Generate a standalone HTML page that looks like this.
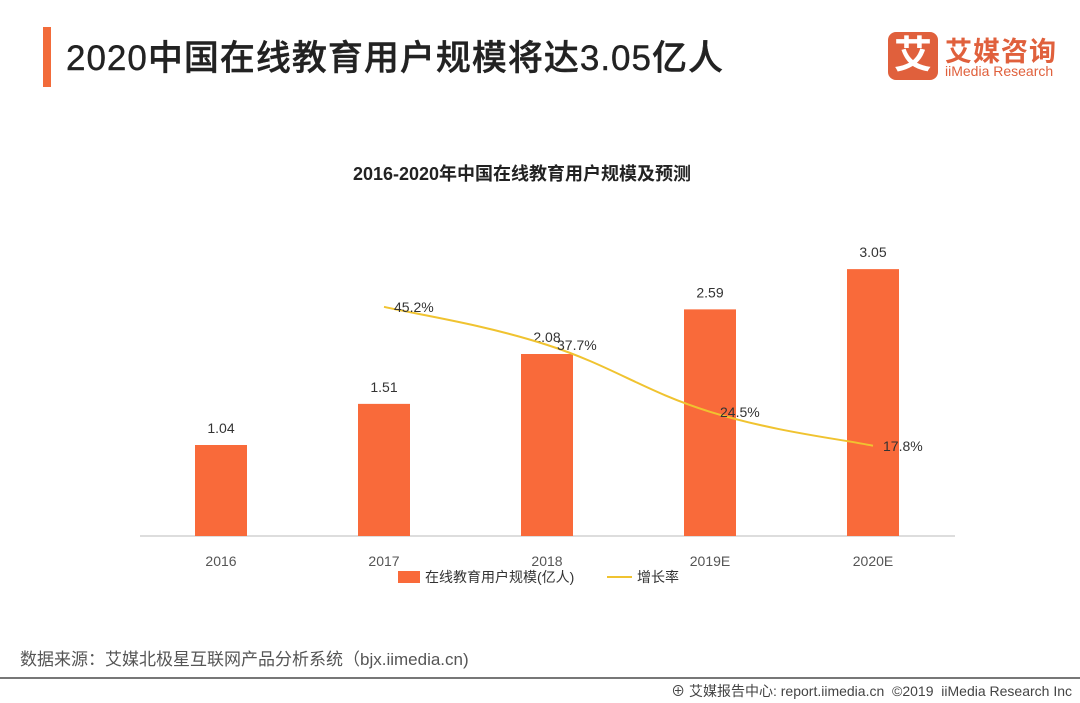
<!DOCTYPE html>
<html><head><meta charset="utf-8"><style>
body{margin:0;width:1080px;height:703px;background:#fff;overflow:hidden;font-family:"Liberation Sans","Noto Sans CJK SC",sans-serif;position:relative}
.abs{position:absolute}
</style></head><body>
<div class="abs" style="left:43px;top:27px;width:8px;height:60px;background:#f26b3a"></div>
<div class="abs" style="left:66px;top:30px;font-size:35px;color:#222;white-space:nowrap;letter-spacing:1px;font-weight:500;-webkit-text-stroke:0.4px #222">2020中国在线教育用户规模将达3.05亿人</div>
<div class="abs" style="left:888px;top:30px;width:170px;height:52px">
  <div style="position:absolute;left:0;top:2px;width:50px;height:48px;background:#e0603c;border-radius:8px;color:#fff;font-size:38px;font-weight:bold;text-align:center;line-height:48px">艾</div>
  <div style="position:absolute;left:57px;top:0;font-size:27px;font-weight:bold;color:#e0603c;white-space:nowrap;letter-spacing:1px">艾媒咨询</div>
  <div style="position:absolute;left:57px;top:33px;font-size:14px;color:#e0603c;white-space:nowrap">iiMedia Research</div>
</div>
<div class="abs" style="left:0;width:1044px;top:160px;text-align:center;font-size:18px;font-weight:bold;color:#222">2016-2020年中国在线教育用户规模及预测</div>
<svg class="abs" style="left:0;top:0" width="1080" height="703" id="chart"></svg>
<div class="abs" style="left:20px;top:645px;font-size:17px;color:#555;white-space:nowrap">数据来源：艾媒北极星互联网产品分析系统（bjx.iimedia.cn)</div>
<div class="abs" style="left:0;top:677px;width:1080px;height:2px;background:#777"></div>
<div class="abs" style="right:8px;top:681px;font-size:14px;color:#444;white-space:nowrap">⊕ 艾媒报告中心: report.iimedia.cn &nbsp;©2019 &nbsp;iiMedia Research Inc</div>
<script>
const categories=["2016","2017","2018","2019E","2020E"];
const users=[1.04,1.51,2.08,2.59,3.05];
const growthCats=["2017","2018","2019E","2020E"];
const growth=[45.2,37.7,24.5,17.8];
const svg=document.getElementById('chart');
const NS='http://www.w3.org/2000/svg';
const base=536, x0=221, step=163;
const xPos=c=>x0+categories.indexOf(c)*step;
const yBar=v=>base-v*87.5;
const yLine=p=>base-p*5.07;
function mk(t,a){const e=document.createElementNS(NS,t);for(const k in a)e.setAttribute(k,a[k]);svg.appendChild(e);return e;}
const ax=mk('line',{x1:140,x2:955,y1:base,y2:base,stroke:'#bbb','stroke-width':1});


categories.forEach((c,i)=>{
  const x=xPos(c),y=yBar(users[i]);
  const r=mk('rect',{x:x-26,y:y,width:52,height:base-y,fill:'#f96a3a'});
  
  
  const t=mk('text',{x:x,y:y-12,'text-anchor':'middle','font-size':14,fill:'#333'});t.textContent=users[i].toFixed(2);
  
  
  const l=mk('text',{x:x,y:566,'text-anchor':'middle','font-size':14,fill:'#555'});l.textContent=c;
  
  
});
const pts=growthCats.map((c,i)=>[xPos(c),yLine(growth[i])]);
let d='M'+pts[0][0]+','+pts[0][1];
for(let i=0;i<pts.length-1;i++){
  const p0=pts[i-1]||pts[i],p1=pts[i],p2=pts[i+1],p3=pts[i+2]||p2;
  const k=0.2;
  d+=' C'+(p1[0]+(p2[0]-p0[0])*k)+','+(p1[1]+(p2[1]-p0[1])*k)+' '+(p2[0]-(p3[0]-p1[0])*k)+','+(p2[1]-(p3[1]-p1[1])*k)+' '+p2[0]+','+p2[1];
}
const ln=mk('path',{d:d,fill:'none',stroke:'#f0c330','stroke-width':2});


pts.forEach((p,i)=>{
  const t=mk('text',{x:p[0]+10,y:p[1]+5,'font-size':14,fill:'#333'});t.textContent=growth[i].toFixed(1)+'%';
  
  
});
const lg1=mk('rect',{x:398,y:571,width:22,height:12,fill:'#f96a3a'});


const lt1=mk('text',{x:425,y:582,'font-size':14,fill:'#333'});lt1.textContent='在线教育用户规模(亿人)';


const lg2=mk('line',{x1:607,x2:632,y1:577,y2:577,stroke:'#f0c330','stroke-width':2});


const lt2=mk('text',{x:637,y:582,'font-size':14,fill:'#333'});lt2.textContent='增长率';


</script>
</body></html>
